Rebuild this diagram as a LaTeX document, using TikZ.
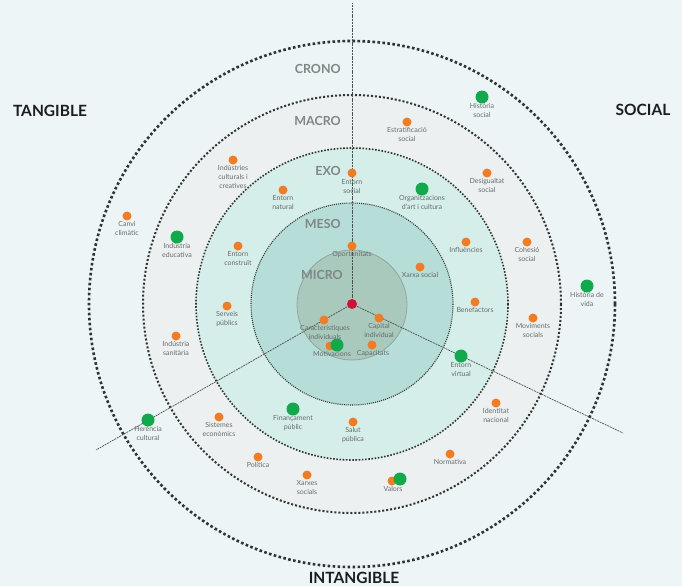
\documentclass[tikz,border=0pt]{standalone}
\usepackage{fontspec}
\setmainfont{Lato}
\definecolor{bgc}{HTML}{EEF5F7}
\definecolor{cronofill}{HTML}{EDF4F5}
\definecolor{macrofill}{HTML}{ECF0F0}
\definecolor{exofill}{HTML}{D5EEE9}
\definecolor{mesofill}{HTML}{B6DDD7}
\definecolor{microfill}{HTML}{A9C9BD}
\definecolor{microline}{HTML}{8CA89E}
\definecolor{ringline}{HTML}{2E3434}
\definecolor{axisline}{HTML}{4A5050}
\definecolor{orng}{HTML}{F37B22}
\definecolor{grn}{HTML}{10AA4C}
\definecolor{reddot}{HTML}{CF1038}
\definecolor{lblgray}{HTML}{666C6C}
\definecolor{ringgray}{HTML}{7F8787}
\definecolor{titleblack}{HTML}{1B1D1E}
\begin{document}
\begin{tikzpicture}[x=1pt,y=-1pt,
  cronoring/.style={draw=ringline, line width=2.6pt, dash pattern=on 2.6pt off 2.4pt},
  macroring/.style={draw=ringline, line width=2pt, dash pattern=on 2pt off 2pt},
  exoring/.style={draw=ringline, line width=1.6pt, dash pattern=on 1.6pt off 1.6pt},
  mesoring/.style={draw=ringline, line width=1.1pt, dash pattern=on 1pt off 1.1pt},
  axis/.style={draw=axisline, line width=0.7pt, dash pattern=on 2pt off 0.8pt},
  odot/.style={circle, fill=orng, inner sep=0pt, minimum size=9pt},
  gdot/.style={circle, fill=grn, inner sep=0pt, minimum size=13pt},
  rdot/.style={circle, fill=reddot, inner sep=0pt, minimum size=10pt},
  lbl/.style={font=\fontsize{7}{8.8}\selectfont, text=lblgray, align=center, inner sep=0pt, anchor=north},
  ringlbl/.style={font=\bfseries\fontsize{12.5}{14}\selectfont, text=ringgray, inner sep=0pt, anchor=base east},
  title/.style={font=\bfseries\fontsize{15.5}{18}\selectfont, text=titleblack, inner sep=0pt, anchor=base}
]
\fill[bgc] (0,0) rectangle (682,586);
\useasboundingbox (0,0) rectangle (682,586);
\coordinate (C) at (352,304);
\coordinate (M) at (352,305);
% ring fills
\fill[cronofill] (C) circle[radius=263];
\fill[macrofill] (C) circle[radius=209];
\fill[exofill] (C) circle[radius=156];
\fill[mesofill] (C) circle[radius=101];
\filldraw[fill=microfill, draw=microline, line width=0.8pt] (M) circle[radius=55];
% rings
\draw[cronoring] (C) circle[radius=263];
\draw[macroring] (C) circle[radius=209];
\draw[exoring] (C) circle[radius=156];
\draw[mesoring] (C) circle[radius=101];
% axes
\coordinate (topend) at (352,3);
\coordinate (leftend) at (96,450);
\coordinate (rightend) at (623,433);
\draw[axis] (C) -- (topend);
\draw[axis] (C) -- (leftend);
\draw[axis] (C) -- (rightend);
% ring labels
\node[ringlbl] (crono) at (341,74) {CRONO};
\node[ringlbl] (macro) at (341,125) {MACRO};
\node[ringlbl] (exo) at (341,175) {EXO};
\node[ringlbl] (meso) at (341,228) {MESO};
\node[ringlbl] (micro) at (343,279) {MICRO};
% titles
\node[title] (tangible) at (50,116) {TANGIBLE};
\node[title] (social) at (643,115.5) {SOCIAL};
\node[title] (intangible) at (354,583) {INTANGIBLE};
% labels
\node[lbl] (canvi-l) at (127,221.5) {Canvi\\climàtic};
\node[lbl] (indcult-l) at (233,165.5) {Indústries\\culturals i\\creatives};
\node[lbl] (entnat-l) at (283,195.5) {Entorn\\natural};
\node[lbl] (entcons-l) at (238,251.5) {Entorn\\construït};
\node[lbl] (estrat-l) at (407,127.5) {Estratificació\\social};
\node[lbl] (entsoc-l) at (352,179) {Entorn\\social};
\node[lbl] (desig-l) at (487,178.5) {Desigualtat\\social};
\node[lbl] (influ-l) at (466,247.5) {Influències};
\node[lbl] (cohes-l) at (527,247.5) {Cohesió\\social};
\node[lbl] (oport-l) at (352,251) {Oportunitats};
\node[lbl] (xarxa-l) at (420,272) {Xarxa social};
\node[lbl] (serveis-l) at (227,311.5) {Serveis\\públics};
\node[lbl] (indsan-l) at (176,341.5) {Indústria\\sanitària};
\node[lbl] (caract-l) at (325,325.5) {Característiques\\individuals};
\node[lbl] (motiv-l) at (332,351) {Motivacions};
\node[lbl] (sistemes-l) at (219,422.5) {Sistemes\\econòmics};
\node[lbl] (politica-l) at (258,462.5) {Política};
\node[lbl] (xarxes-l) at (307,480.5) {Xarxes\\socials};
\node[lbl] (benef-l) at (475,307.5) {Benefactors};
\node[lbl] (movim-l) at (533,323.5) {Moviments\\socials};
\node[lbl] (capital-l) at (379,323.5) {Capital\\individual};
\node[lbl] (capac-l) at (373,350) {Capacitats};
\node[lbl] (identitat-l) at (496,408.5) {Identitat\\nacional};
\node[lbl] (salut-l) at (353,427.5) {Salut\\pública};
\node[lbl] (normativa-l) at (450,459.5) {Normativa};
\node[lbl] (valors-l) at (393,486) {Valors};
\node[lbl] (histsoc-l) at (482,103.5) {Història\\social};
\node[lbl] (indedu-l) at (177,243) {Indústria\\educativa};
\node[lbl] (organ-l) at (422,195.5) {Organitzacions\\d'art i cultura};
\node[lbl] (heren-l) at (148,426.5) {Herència\\cultural};
\node[lbl] (finan-l) at (293,415.5) {Finançament\\públic};
\node[lbl] (histvida-l) at (587,292.5) {Història de\\vida};
\node[lbl] (entvirt-l) at (461,362.5) {Entorn\\virtual};
% orange dots
\node[odot] (canvi) at (127,216) {};
\node[odot] (indcult) at (233,160) {};
\node[odot] (entnat) at (283,190) {};
\node[odot] (entcons) at (238,246) {};
\node[odot] (estrat) at (407,122) {};
\node[odot] (entsoc) at (352,173) {};
\node[odot] (desig) at (487,173) {};
\node[odot] (influ) at (466,242) {};
\node[odot] (cohes) at (527,242) {};
\node[odot] (oport) at (352,246) {};
\node[odot] (xarxa) at (420,267) {};
\node[odot] (serveis) at (227,306) {};
\node[odot] (indsan) at (176,336) {};
\node[odot] (caract) at (324,320) {};
\node[odot] (motiv-o) at (330,346) {};
\node[odot] (sistemes) at (219,417) {};
\node[odot] (politica) at (258,457) {};
\node[odot] (xarxes) at (307,475) {};
\node[odot] (benef) at (475,302) {};
\node[odot] (movim) at (533,318) {};
\node[odot] (capital) at (379,318) {};
\node[odot] (capac) at (372,345) {};
\node[odot] (identitat) at (496,403) {};
\node[odot] (salut) at (353,422) {};
\node[odot] (normativa) at (450,454) {};
\node[odot] (valors-o) at (392,481) {};
% green dots
\node[gdot] (histsoc) at (482,97) {};
\node[gdot] (indedu) at (177,237) {};
\node[gdot] (organ) at (422,189) {};
\node[gdot] (motiv-g) at (337,345) {};
\node[gdot] (heren) at (148,420) {};
\node[gdot] (finan) at (293,409) {};
\node[gdot] (histvida) at (587,286) {};
\node[gdot] (entvirt) at (461,356) {};
\node[gdot] (valors-g) at (400,479) {};
% centre
\node[rdot] (centre) at (C) {};
\end{tikzpicture}
\end{document}
